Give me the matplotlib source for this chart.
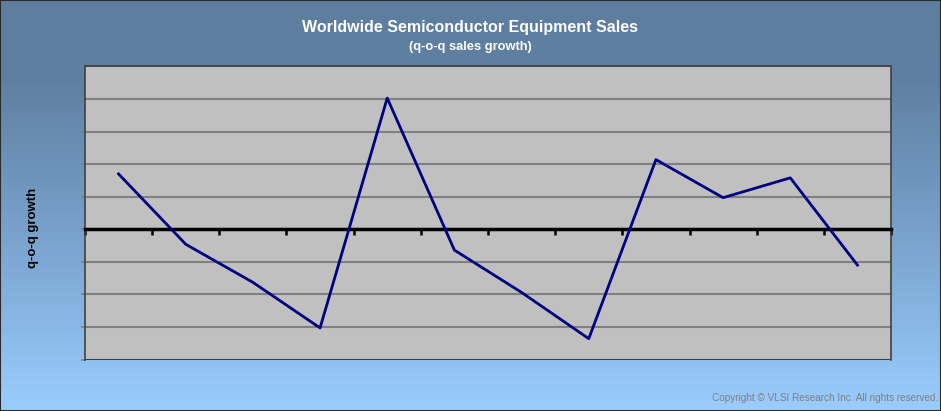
import matplotlib
matplotlib.use("Agg")
import matplotlib.pyplot as plt
from matplotlib.colors import LinearSegmentedColormap
import numpy as np

plt.rcParams['font.family'] = ['Liberation Sans', 'DejaVu Sans']

# quarter-over-quarter growth, %
quarters = np.arange(1, 13)
growth = [17.0, -4.6, -16.3, -30.3, 40.3, -6.4, -19.4, -33.6, 21.4, 9.7, 15.8, -11.0]
grid_levels = np.arange(-40, 51, 10)

fig = plt.figure(figsize=(9.41, 4.11), dpi=100)

# gradient backdrop
bg = fig.add_axes([0, 0, 1, 1], zorder=0)
cmap = LinearSegmentedColormap.from_list(
    "bg", [(0.0, "#5e7e9f"), (0.2, "#5f80a2"), (0.6, "#7ba4cf"), (1.0, "#9acdfe")])
bg.imshow(np.linspace(0, 1, 256).reshape(-1, 1), aspect="auto", cmap=cmap,
          extent=[0, 1, 0, 1], origin="upper")
bg.set_xlim(0, 1)
bg.set_ylim(0, 1)
for s in bg.spines.values():
    s.set_color("#2a2a2a")
    s.set_linewidth(1.5)
bg.set_xticks([])
bg.set_yticks([])

ax = fig.add_axes([0.0903, 0.1253, 0.8566, 0.7129], zorder=1)
ax.set_facecolor("#c0c0c0")
ax.plot(quarters, growth, color="#000080", lw=2.0, zorder=4)

ax.set_xlim(0.5, 12.5)
ax.set_ylim(-40, 50)
ax.set_yticks(grid_levels)
ax.set_yticklabels([])
ax.grid(axis="y", color="#808080", lw=1.5)
ax.set_axisbelow(True)
ax.tick_params(axis="y", length=3, width=1.2, color="#808080", direction="out")

ax.set_xticks(np.arange(0.5, 13, 1))
ax.set_xticklabels([])
ax.spines["bottom"].set_position(("data", 0))
ax.spines["bottom"].set_color("black")
ax.spines["bottom"].set_linewidth(2.5)
ax.spines["bottom"].set_zorder(3)
ax.tick_params(axis="x", length=4, width=1.8, color="black", direction="out")
for side in ("left", "right", "top"):
    ax.spines[side].set_color("#404040")
    ax.spines[side].set_linewidth(1.2)
ax.axhline(-40, color="#404040", lw=1.5)

fig.text(0.035, 0.445, "q-o-q growth", rotation=90, fontsize=9.5,
         fontweight="bold", ha="center", va="center")

fig.text(0.5, 0.932, "Worldwide Semiconductor Equipment Sales", color="white",
         fontsize=11.5, fontweight="bold", ha="center", va="center")
fig.text(0.5, 0.886, "(q-o-q sales growth)", color="white",
         fontsize=9.3, fontweight="bold", ha="center", va="center")
fig.text(0.997, 0.032, "Copyright \u00a9 VLSI Research Inc. All rights reserved.",
         color="#808080", fontsize=7.2, ha="right", va="center")

fig.savefig("out.png", dpi=100)
